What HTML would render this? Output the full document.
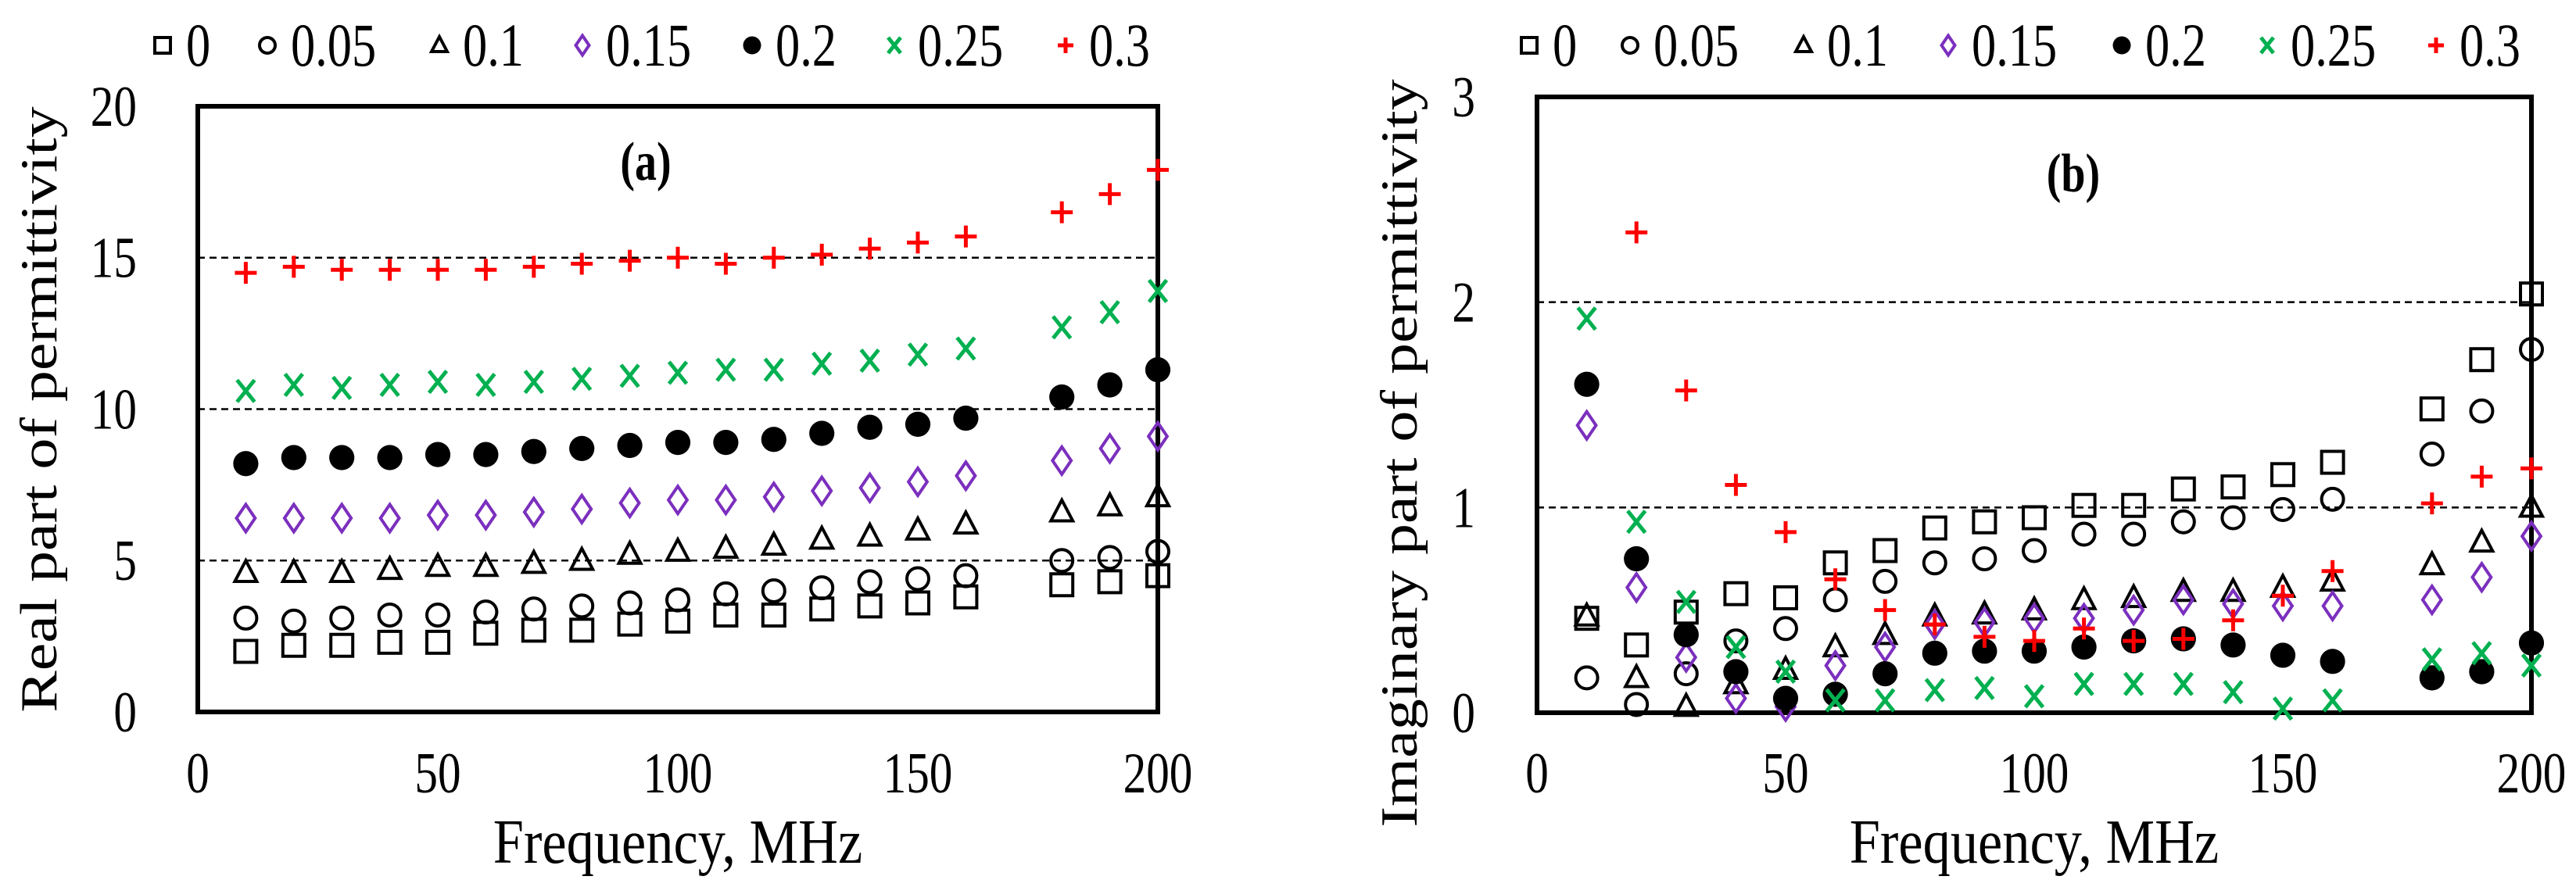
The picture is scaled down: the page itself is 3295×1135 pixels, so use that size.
<!DOCTYPE html>
<html><head><meta charset="utf-8"><style>
html,body{margin:0;padding:0;background:#fff;}
svg{display:block;font-family:"Liberation Serif",serif;}
</style></head><body>
<svg id="chart" width="3295" height="1135" viewBox="0 0 3295 1135" xmlns="http://www.w3.org/2000/svg"></svg>
<script>
const freqs = [10,20,30,40,50,60,70,80,90,100,110,120,130,140,150,160,180,190,200];
const seriesNames = ["0","0.05","0.1","0.15","0.2","0.25","0.3"];
const real0   = [2.0,2.2,2.2,2.3,2.3,2.6,2.7,2.7,2.9,3.0,3.2,3.2,3.4,3.5,3.6,3.8,4.2,4.3,4.5];
const real005 = [3.1,3.0,3.1,3.2,3.2,3.3,3.4,3.5,3.6,3.7,3.9,4.0,4.1,4.3,4.4,4.5,5.0,5.1,5.3];
const real01  = [4.6,4.6,4.6,4.7,4.8,4.8,4.9,5.0,5.2,5.3,5.4,5.5,5.7,5.8,6.0,6.2,6.6,6.8,7.1];
const real015 = [6.4,6.4,6.4,6.4,6.5,6.5,6.6,6.7,6.9,7.0,7.0,7.1,7.3,7.4,7.6,7.8,8.3,8.7,9.1];
const real02  = [8.2,8.4,8.4,8.4,8.5,8.5,8.6,8.7,8.8,8.9,8.9,9.0,9.2,9.4,9.5,9.7,10.4,10.8,11.3];
const real025 = [10.6,10.8,10.7,10.8,10.9,10.8,10.9,11.0,11.1,11.2,11.3,11.3,11.5,11.6,11.8,12.0,12.7,13.2,13.9];
const real03  = [14.5,14.7,14.6,14.6,14.6,14.6,14.7,14.8,14.9,15.0,14.8,15.0,15.1,15.3,15.5,15.7,16.5,17.1,17.9];
const imag0   = [0.46,0.33,0.49,0.58,0.56,0.73,0.79,0.90,0.93,0.95,1.01,1.01,1.09,1.10,1.16,1.22,1.48,1.72,2.04];
const imag005 = [0.17,0.04,0.19,0.35,0.41,0.55,0.64,0.73,0.75,0.79,0.87,0.87,0.93,0.95,0.99,1.04,1.26,1.47,1.77];
const imag01  = [0.47,0.17,0.03,0.14,0.21,0.32,0.38,0.47,0.48,0.50,0.55,0.56,0.59,0.59,0.61,0.64,0.72,0.83,1.0];
const imag015 = [1.40,0.61,0.27,0.07,0.03,0.23,0.32,0.43,0.44,0.46,0.46,0.50,0.55,0.53,0.52,0.52,0.55,0.66,0.86];
const imag02  = [1.60,0.75,0.38,0.20,0.07,0.09,0.19,0.29,0.30,0.30,0.32,0.35,0.36,0.33,0.28,0.25,0.17,0.20,0.34];
const imag025 = [1.92,0.93,0.54,0.32,0.20,0.06,0.06,0.11,0.12,0.08,0.14,0.14,0.14,0.10,0.02,0.06,0.26,0.29,0.23];
const imag03  = [null,2.34,1.57,1.11,0.88,0.65,0.50,0.43,0.37,0.35,0.41,0.35,0.36,0.45,0.57,0.69,1.02,1.15,1.19];
const xTicks = [0,50,100,150,200];
const yTicksA = [0,5,10,15,20];
const yTicksB = [0,1,2,3];
const gridA = [5,10,15];
const gridB = [1,2];

const NS="http://www.w3.org/2000/svg";
const svg=document.getElementById('chart');
const SX=0.8;
function mk(tag,attrs,parent){const e=document.createElementNS(NS,tag);for(const k in attrs)e.setAttribute(k,attrs[k]);(parent||svg).appendChild(e);return e;}
function txt(parent,x,y,size,anchor,str,extra,sc){
 const s=sc||SX;
 const e=mk('text',Object.assign({x:x/s,y:y,'font-size':size,'text-anchor':anchor,transform:`scale(${s},1)`},extra||{}),parent);
 e.textContent=str;return e;
}
const styles=[
 {shape:'square',color:'#000'},{shape:'circle',color:'#000'},{shape:'triangle',color:'#000'},
 {shape:'diamond',color:'#7b2fbe'},{shape:'dot',color:'#000'},{shape:'x',color:'#00b050'},{shape:'plus',color:'#ff0000'}];
function marker(g,shape,color,x,y,s){
 let e;
 if(shape==='square') e=mk('rect',{x:x-s,y:y-s,width:2*s,height:2*s,fill:'none',stroke:color,'stroke-width':4},g);
 else if(shape==='circle') e=mk('circle',{cx:x,cy:y,r:s,fill:'none',stroke:color,'stroke-width':4},g);
 else if(shape==='triangle') e=mk('polygon',{points:`${x},${y-s*1.1} ${x-s},${y+s*0.8} ${x+s},${y+s*0.8}`,fill:'none',stroke:color,'stroke-width':4},g);
 else if(shape==='diamond') e=mk('polygon',{points:`${x},${y-s*1.25} ${x+s*0.85},${y} ${x},${y+s*1.25} ${x-s*0.85},${y}`,fill:'none',stroke:color,'stroke-width':4},g);
 else if(shape==='dot') e=mk('circle',{cx:x,cy:y,r:s*1.15,fill:color},g);
 else if(shape==='x') e=mk('path',{d:`M${x-s*0.8},${y-s} L${x+s*0.8},${y+s} M${x+s*0.8},${y-s} L${x-s*0.8},${y+s}`,stroke:color,'stroke-width':5,fill:'none'},g);
 else e=mk('path',{d:`M${x-s},${y} L${x+s},${y} M${x},${y-s} L${x},${y+s}`,stroke:color,'stroke-width':5,fill:'none'},g);
 return e;
}
function drawChart(cfg){
 const g=mk('g',{});
 
 
 const sx=v=>cfg.x0+(v/200)*(cfg.x1-cfg.x0);
 const sy=v=>cfg.y0-(v/cfg.ymax)*(cfg.y0-cfg.y1);
 cfg.grid.forEach(v=>{const l=mk('line',{x1:cfg.x0,x2:cfg.x1,y1:sy(v),y2:sy(v),stroke:'#000','stroke-width':2.5,'stroke-dasharray':'9,6'},g);
  
  });
 const box=mk('rect',{x:cfg.x0,y:cfg.y1,width:cfg.x1-cfg.x0,height:cfg.y0-cfg.y1,fill:'none',stroke:'#000','stroke-width':6},g);
 
 
 xTicks.forEach(v=>{const t=txt(g,sx(v),1014,74,'middle',String(v));
  
  });
 cfg.yTicks.forEach(v=>{const t=txt(g,cfg.ytx,sy(v)+25,74,'end',String(v));
  
  });
 const xt=txt(g,(cfg.x0+cfg.x1)/2,1104,80,'middle','Frequency, MHz',null,0.88);
 
 
 const yt=mk('text',{x:0,y:0,'font-size':80,'text-anchor':'middle',transform:`translate(${cfg.ytitleX},${cfg.ytitleY}) rotate(-90) scale(1,0.84)`},g);yt.textContent=cfg.ytitle;
 
 
 const pl=txt(g,cfg.labX,cfg.labY,70,'middle',cfg.label,{'font-weight':'bold'});
 
 
 cfg.series.forEach((arr,si)=>{
  const sg=mk('g',{},g);
  
  
  arr.forEach((v,i)=>{if(v===null)return;
   const m=marker(sg,styles[si].shape,styles[si].color,sx(freqs[i]),sy(v),14);
   
   });
 });
 cfg.legendX.forEach((lx,si)=>{
  const lg=mk('g',{},g);
  
  
  marker(lg,styles[si].shape,styles[si].color,lx,58,10);
  txt(lg,lx+30,84,78,'start',seriesNames[si]);
 });
}
drawChart({name:'chart-real',x0:253,x1:1481,y0:911,y1:136,ymax:20,yTicks:yTicksA,grid:gridA,ytx:175,
 ytitle:'Real part of permittivity',ytitleX:72,ytitleY:524,label:'(a)',labX:826,labY:230,
 series:[real0,real005,real01,real015,real02,real025,real03],
 legendX:[208,342,562,745,962,1144,1363]});
drawChart({name:'chart-imaginary',x0:1966,x1:3238,y0:912,y1:124,ymax:3,yTicks:yTicksB,grid:gridB,ytx:1887,
 ytitle:'Imaginary part of permittivity',ytitleX:1812,ytitleY:580,label:'(b)',labX:2652,labY:245,
 series:[imag0,imag005,imag01,imag015,imag02,imag025,imag03],
 legendX:[1956,2085,2307,2492,2714,2900,3116]});
</script>
</body></html>
